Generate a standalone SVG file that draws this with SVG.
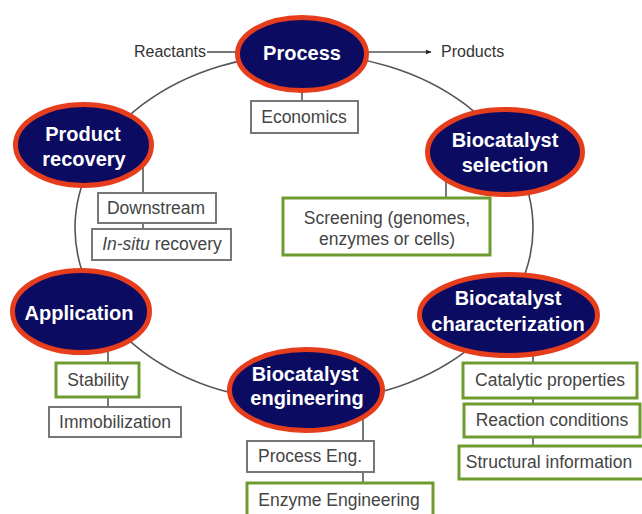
<svg xmlns="http://www.w3.org/2000/svg" width="642" height="514" viewBox="0 0 642 514">
<defs>
<style>
.node ellipse{fill:#0b0b62;stroke:#e63d1c;stroke-width:5}
.node text{fill:#fff;font-family:"Liberation Sans",Arial,sans-serif;font-weight:bold;font-size:20px;text-anchor:middle}
.box rect{fill:#fff;stroke:#777;stroke-width:2}
.box.g rect{stroke:#6e9b30;stroke-width:3}
.box text{fill:#444;font-family:"Liberation Sans",Arial,sans-serif;font-size:17.5px;text-anchor:middle}
.lbl{fill:#333;font-family:"Liberation Sans",Arial,sans-serif;font-size:16px}
.conn line,.conn ellipse{stroke:#555;stroke-width:1.6;fill:none}
</style>
<marker id="arr" viewBox="0 0 10 10" refX="9" refY="5" markerWidth="3.5" markerHeight="3.5" orient="auto"><path d="M0,1 L10,5 L0,9 z" fill="#222"/></marker>
</defs>
<rect width="642" height="514" fill="#fff"/>
<g id="connectors" class="conn">
<ellipse cx="304" cy="228" rx="229" ry="174"/>
<line x1="207" y1="52" x2="237" y2="52"/>
<line x1="368" y1="52" x2="431" y2="52" marker-end="url(#arr)"/>
<line x1="302" y1="88" x2="302" y2="101"/>
<line x1="143" y1="165" x2="143" y2="193"/>
<line x1="143" y1="223" x2="143" y2="229"/>
<line x1="446" y1="180" x2="446" y2="198"/>
<line x1="108" y1="350" x2="108" y2="363"/>
<line x1="108" y1="397" x2="108" y2="407"/>
<line x1="363" y1="418" x2="363" y2="441"/>
<line x1="363" y1="472" x2="363" y2="483"/>
<line x1="533" y1="352" x2="533" y2="363"/>
<line x1="533" y1="398" x2="533" y2="404"/>
<line x1="533" y1="437" x2="533" y2="446"/>
</g>
<text class="lbl" x="134" y="57">Reactants</text>
<text class="lbl" x="441" y="57">Products</text>
<g id="process" class="node"><ellipse cx="302" cy="54" rx="64.5" ry="36.5"/><text x="302" y="60">Process</text></g>
<g id="product-recovery" class="node"><ellipse cx="83.5" cy="145" rx="68" ry="40.5"/><text x="83" y="141">Product</text><text x="84" y="166">recovery</text></g>
<g id="biocatalyst-selection" class="node"><ellipse cx="505" cy="152" rx="77.5" ry="42.5"/><text x="505" y="147">Biocatalyst</text><text x="505" y="172">selection</text></g>
<g id="application" class="node"><ellipse cx="81" cy="311.5" rx="68.5" ry="41"/><text x="79" y="320">Application</text></g>
<g id="biocatalyst-engineering" class="node"><ellipse cx="306" cy="390" rx="76.5" ry="40.5"/><text x="305" y="381">Biocatalyst</text><text x="307" y="405">engineering</text></g>
<g id="biocatalyst-characterization" class="node"><ellipse cx="508.5" cy="315" rx="89" ry="40.5"/><text x="508" y="305">Biocatalyst</text><text x="508" y="331">characterization</text></g>
<g id="economics" class="box"><rect x="251" y="101" width="107" height="32"/><text x="304" y="123">Economics</text></g>
<g id="downstream" class="box"><rect x="98" y="193" width="118" height="30"/><text x="156" y="214">Downstream</text></g>
<g id="insitu" class="box"><rect x="92" y="229" width="139" height="31"/><text x="162" y="250"><tspan font-style="italic">In-situ</tspan> recovery</text></g>
<g id="screening" class="box g"><rect x="283" y="198" width="207" height="57"/><text x="387" y="224">Screening (genomes,</text><text x="387" y="245">enzymes or cells)</text></g>
<g id="stability" class="box g"><rect x="56" y="363" width="83" height="34"/><text x="98" y="386">Stability</text></g>
<g id="immobilization" class="box"><rect x="49" y="407" width="132" height="30"/><text x="115" y="428">Immobilization</text></g>
<g id="process-eng" class="box"><rect x="247" y="441" width="127" height="31"/><text x="310" y="462">Process Eng.</text></g>
<g id="enzyme-engineering" class="box g"><rect x="247" y="483" width="186" height="40"/><text x="339" y="506">Enzyme Engineering</text></g>
<g id="catalytic" class="box g"><rect x="463" y="363" width="174" height="35"/><text x="550" y="386">Catalytic properties</text></g>
<g id="reaction" class="box g"><rect x="464" y="404" width="176" height="33"/><text x="552" y="426">Reaction conditions</text></g>
<g id="structural" class="box g"><rect x="459" y="446" width="186" height="33"/><text x="549" y="468">Structural information</text></g>
</svg>
